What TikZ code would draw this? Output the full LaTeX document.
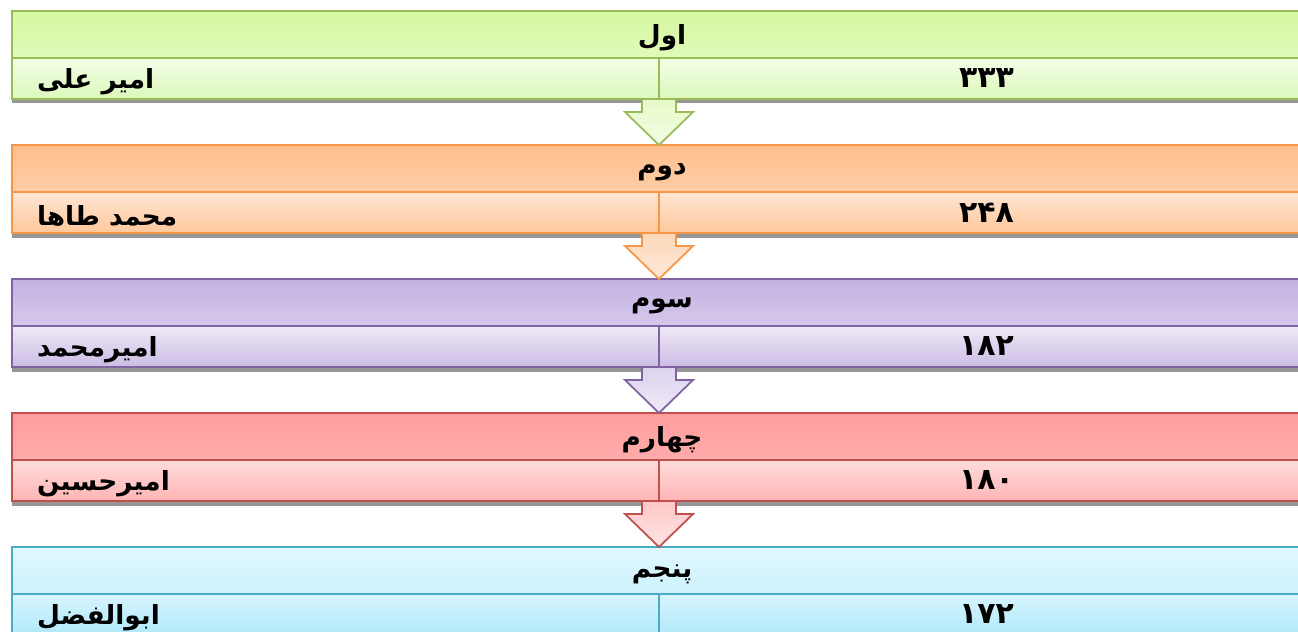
\documentclass[tikz,border=0pt]{standalone}
\usepackage{fontspec}
\newfontfamily\fa[Script=Arabic]{DejaVu Sans}
\TeXXeTstate=1
\usepackage{tikz}
\usetikzlibrary{positioning,shadows}

\definecolor{gline}{HTML}{9BBB59}
\definecolor{oline}{HTML}{F79646}
\definecolor{pline}{HTML}{8064A2}
\definecolor{rline}{HTML}{C0504D}
\definecolor{bline}{HTML}{4BACC6}
\newcommand{\rtl}[1]{\raisebox{-2pt}[\height][\depth]{\beginR #1\endR}}
\newcommand{\num}[1]{{\fontsize{17}{20}\selectfont #1}}

\begin{document}
\begin{tikzpicture}[x=0.2cm,y=0.2cm]
\tikzstyle{every node}+=[inner sep=0pt, outer sep=0pt, font=\fa\bfseries\fontsize{15}{18}\selectfont]
\tikzstyle{hdr}=[line width=1pt, minimum width=26cm, minimum height=0.94cm, anchor=north west]
\tikzstyle{cell}=[line width=1pt, minimum height=0.82cm, anchor=north west, drop shadow={shadow xshift=0pt, shadow yshift=-0.09cm, opacity=0.55, fill=black!75}]
\tikzstyle{lcell}=[cell, minimum width=12.94cm]
\tikzstyle{rcell}=[cell, minimum width=13.1cm]
\tikzstyle{arr}=[line width=1pt, line join=miter]
\useasboundingbox (0,0) rectangle (129.8,-63.2);
\clip (0,0) rectangle (129.8,-63.2);
% first
\node [hdr, draw=gline, top color={rgb,255:red,213;green,247;blue,160}, bottom color={rgb,255:red,225;green,250;blue,186}] (h1) at (1.2,-1.1) {\rtl{اول}};
\node [lcell, draw=gline, top color={rgb,255:red,243;green,254;blue,230}, bottom color={rgb,255:red,220;green,248;blue,188}] (l1) at (h1.south west) {};
\node [rcell, draw=gline, top color={rgb,255:red,243;green,254;blue,230}, bottom color={rgb,255:red,220;green,248;blue,188}] (r1) at (l1.north east) {\num{۳۳۳}};
\node [anchor=west] (n1) at ([xshift=0.5cm]l1.west) {\rtl{امیر علی}};
% second
\node [hdr, draw=oline, top color={rgb,255:red,255;green,190;blue,140}, bottom color={rgb,255:red,255;green,205;blue,166}, below=0.92cm of l1.south west, anchor=north west] (h2) {\rtl{دوم}};
\node [lcell, draw=oline, top color={rgb,255:red,255;green,230;blue,211}, bottom color={rgb,255:red,255;green,199;blue,155}] (l2) at (h2.south west) {};
\node [rcell, draw=oline, top color={rgb,255:red,255;green,230;blue,211}, bottom color={rgb,255:red,255;green,199;blue,155}] (r2) at (l2.north east) {\num{۲۴۸}};
\node [anchor=west] (n2) at ([xshift=0.5cm]l2.west) {\rtl{محمد طاها}};
% third
\node [hdr, draw=pline, top color={rgb,255:red,196;green,177;blue,226}, bottom color={rgb,255:red,213;green,200;blue,235}, below=0.92cm of l2.south west, anchor=north west] (h3) {\rtl{سوم}};
\node [lcell, draw=pline, top color={rgb,255:red,239;green,233;blue,247}, bottom color={rgb,255:red,204;green,188;blue,229}] (l3) at (h3.south west) {};
\node [rcell, draw=pline, top color={rgb,255:red,239;green,233;blue,247}, bottom color={rgb,255:red,204;green,188;blue,229}] (r3) at (l3.north east) {\num{۱۸۲}};
\node [anchor=west] (n3) at ([xshift=0.5cm]l3.west) {\rtl{امیرمحمد}};
% fourth
\node [hdr, draw=rline, top color={rgb,255:red,255;green,156;blue,156}, bottom color={rgb,255:red,255;green,172;blue,172}, below=0.92cm of l3.south west, anchor=north west] (h4) {\rtl{چهارم}};
\node [lcell, draw=rline, top color={rgb,255:red,255;green,220;blue,220}, bottom color={rgb,255:red,255;green,180;blue,180}] (l4) at (h4.south west) {};
\node [rcell, draw=rline, top color={rgb,255:red,255;green,220;blue,220}, bottom color={rgb,255:red,255;green,180;blue,180}] (r4) at (l4.north east) {\num{۱۸۰}};
\node [anchor=west] (n4) at ([xshift=0.5cm]l4.west) {\rtl{امیرحسین}};
% fifth
\node [hdr, draw=bline, top color={rgb,255:red,224;green,248;blue,255}, bottom color={rgb,255:red,205;green,242;blue,253}, below=0.92cm of l4.south west, anchor=north west] (h5) {\rtl{پنجم}};
\node [lcell, draw=bline, top color={rgb,255:red,216;green,245;blue,254}, bottom color={rgb,255:red,176;green,232;blue,250}] (l5) at (h5.south west) {};
\node [rcell, draw=bline, top color={rgb,255:red,216;green,245;blue,254}, bottom color={rgb,255:red,176;green,232;blue,250}] (r5) at (l5.north east) {\num{۱۷۲}};
\node [anchor=west] (n5) at ([xshift=0.5cm]l5.west) {\rtl{ابوالفضل}};
% arrows
\path [arr, draw=gline, top color={rgb,255:red,230;green,250;blue,200}, bottom color={rgb,255:red,243;green,253;blue,230}] ([xshift=-0.34cm]l1.south east) -- ([xshift=-0.34cm,yshift=-0.26cm]l1.south east) -- ([xshift=-0.68cm,yshift=-0.26cm]l1.south east) -- (l1.south east |- h2.north) -- ([xshift=0.68cm,yshift=-0.26cm]l1.south east) -- ([xshift=0.34cm,yshift=-0.26cm]l1.south east) -- ([xshift=0.34cm]l1.south east) -- cycle;
\path [arr, draw=oline, top color={rgb,255:red,252;green,215;blue,184}, bottom color={rgb,255:red,253;green,233;blue,217}] ([xshift=-0.34cm]l2.south east) -- ([xshift=-0.34cm,yshift=-0.26cm]l2.south east) -- ([xshift=-0.68cm,yshift=-0.26cm]l2.south east) -- (l2.south east |- h3.north) -- ([xshift=0.68cm,yshift=-0.26cm]l2.south east) -- ([xshift=0.34cm,yshift=-0.26cm]l2.south east) -- ([xshift=0.34cm]l2.south east) -- cycle;
\path [arr, draw=pline, top color={rgb,255:red,220;green,210;blue,238}, bottom color={rgb,255:red,239;green,234;blue,247}] ([xshift=-0.34cm]l3.south east) -- ([xshift=-0.34cm,yshift=-0.26cm]l3.south east) -- ([xshift=-0.68cm,yshift=-0.26cm]l3.south east) -- (l3.south east |- h4.north) -- ([xshift=0.68cm,yshift=-0.26cm]l3.south east) -- ([xshift=0.34cm,yshift=-0.26cm]l3.south east) -- ([xshift=0.34cm]l3.south east) -- cycle;
\path [arr, draw=rline, top color={rgb,255:red,255;green,200;blue,200}, bottom color={rgb,255:red,255;green,227;blue,227}] ([xshift=-0.34cm]l4.south east) -- ([xshift=-0.34cm,yshift=-0.26cm]l4.south east) -- ([xshift=-0.68cm,yshift=-0.26cm]l4.south east) -- (l4.south east |- h5.north) -- ([xshift=0.68cm,yshift=-0.26cm]l4.south east) -- ([xshift=0.34cm,yshift=-0.26cm]l4.south east) -- ([xshift=0.34cm]l4.south east) -- cycle;
\end{tikzpicture}
\end{document}
